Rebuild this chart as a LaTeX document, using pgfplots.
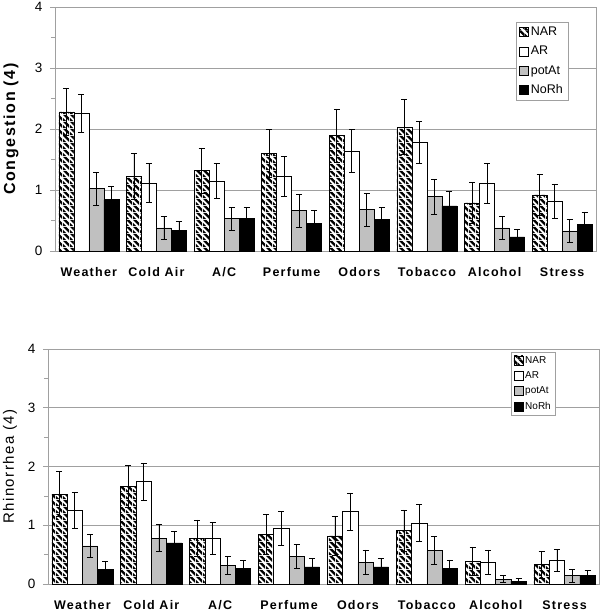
\documentclass[border=0pt]{standalone}
\usepackage{fontspec}
\setmainfont{Liberation Sans}
\newfontfamily\lsp[LetterSpace=10]{Liberation Sans}
\usepackage{pgfplots}
\usepackage{pgfplotstable}
\pgfplotsset{compat=1.18}
\usetikzlibrary{patterns}

\pgfdeclarepatternformonly{thickstripes}{\pgfpoint{0pt}{0pt}}{\pgfpoint{7pt}{7pt}}{\pgfpoint{7pt}{7pt}}{
  \pgfpathmoveto{\pgfpoint{0pt}{0pt}}
  \pgfpathlineto{\pgfpoint{3.6pt}{0pt}}
  \pgfpathlineto{\pgfpoint{0pt}{3.6pt}}
  \pgfpathclose
  \pgfpathmoveto{\pgfpoint{7pt}{0pt}}
  \pgfpathlineto{\pgfpoint{7pt}{3.6pt}}
  \pgfpathlineto{\pgfpoint{3.6pt}{7pt}}
  \pgfpathlineto{\pgfpoint{0pt}{7pt}}
  \pgfpathclose
  \pgfusepath{fill}
}

\pgfplotstableread{
x nar narE ar arE pot potE no noE
0 2.28 0.38 2.25 0.31 1.02 0.27 0.84 0.22
1 1.22 0.38 1.11 0.32 0.38 0.19 0.34 0.15
2 1.32 0.37 1.15 0.28 0.53 0.19 0.54 0.18
3 1.60 0.39 1.22 0.33 0.66 0.27 0.45 0.21
4 1.89 0.44 1.64 0.35 0.68 0.27 0.52 0.20
5 2.03 0.45 1.78 0.34 0.89 0.29 0.74 0.24
6 0.79 0.34 1.11 0.33 0.38 0.19 0.23 0.13
7 0.92 0.34 0.82 0.28 0.33 0.19 0.44 0.20
}\congestion

\pgfplotstableread{
x nar narE ar arE pot potE no noE
0 1.53 0.38 1.25 0.31 0.65 0.20 0.25 0.14
1 1.66 0.36 1.74 0.31 0.78 0.23 0.70 0.19
2 0.78 0.31 0.78 0.27 0.32 0.15 0.27 0.13
3 0.84 0.34 0.94 0.29 0.47 0.21 0.29 0.15
4 0.82 0.33 1.23 0.32 0.37 0.21 0.29 0.15
5 0.91 0.35 1.04 0.32 0.57 0.24 0.27 0.14
6 0.39 0.24 0.37 0.21 0.08 0.06 0.05 0.05
7 0.33 0.23 0.40 0.19 0.14 0.11 0.14 0.09
}\rhino

\definecolor{potgray}{HTML}{C0C0C0}
\definecolor{gridgray}{HTML}{A0A0A0}

\pgfplotsset{
  barchart/.style={
    scale only axis,
    ybar=0pt,
    xmin=-0.5, xmax=7.5,
    ymin=0, ymax=4,
    xtick={0,...,7},
    xticklabels={Weather,Cold Air,A/C,Perfume,Odors,Tobacco,Alcohol,Stress},
    ytick={0,1,2,3,4},
    minor y tick num=1,
    ymajorgrids,
    major grid style={gridgray, line width=0.6pt},
    axis line style={gridgray, line width=0.6pt},
    tick align=outside,
    ytick pos=left,
    xtick pos=bottom,
    x tick style={draw=none},
    y tick style={gridgray, line width=0.6pt},
    major tick length=5pt,
    minor tick length=4pt,
    extra x ticks={0.5,1.5,2.5,3.5,4.5,5.5,6.5},
    extra x tick labels={},
    extra x tick style={grid=none, tick style={draw=gridgray, line width=0.6pt}, major tick length=5pt},
    /pgf/number format/assume math mode=true,
    yticklabel style={font=\fontsize{13.5}{13.5}\selectfont\lsp, xshift=-4pt},
    xticklabel style={font=\fontsize{12.5}{12.5}\selectfont\lsp\bfseries, yshift=-8pt},
    legend cell align=left,
    legend image code/.code={\draw[##1] (0pt,-4.5pt) rectangle (9pt,4.5pt);},
    error bars/y dir=both,
    error bars/y explicit,
    error bars/error bar style={black, line width=0.7pt},
    error bars/error mark options={black, rotate=90, mark size=3pt, line width=0.7pt},
  },
  narstyle/.style={fill=white, draw=black, line width=0.6pt,
    postaction={pattern=thickstripes, pattern color=black}},
  arstyle/.style={fill=white, draw=black, line width=0.6pt},
  potstyle/.style={fill=potgray, draw=black, line width=0.6pt},
  nostyle/.style={fill=black, draw=black, line width=0.6pt},
}

\begin{document}
\begin{tikzpicture}
\path[use as bounding box] (0pt,0pt) rectangle (600pt,-611pt);

\begin{axis}[barchart,
  at={(55pt,-251pt)}, anchor=south west,
  width=541pt, height=244pt,
  bar width=15pt,
  ylabel={Congestion (4)},
  ylabel style={at={(axis description cs:0,0.5)}, anchor=center, yshift=44pt, font=\fontsize{16}{16}\selectfont\lsp\bfseries},
  legend style={at={(1,1)}, anchor=north east, xshift=-28pt, yshift=-15pt,
    draw=gridgray, font=\fontsize{12.5}{12.5}\selectfont, row sep=5pt, inner sep=3pt,
    /tikz/every even column/.append style={column sep=2pt}},
]
\addplot[narstyle] table[x=x, y=nar, y error=narE]{\congestion};
\addplot[arstyle] table[x=x, y=ar, y error=arE]{\congestion};
\addplot[potstyle] table[x=x, y=pot, y error=potE]{\congestion};
\addplot[nostyle] table[x=x, y=no, y error=noE]{\congestion};
\legend{NAR,AR,potAt,NoRh}
\end{axis}

\begin{axis}[barchart,
  at={(48pt,-584pt)}, anchor=south west,
  width=551pt, height=235pt,
  bar width=15.3pt,
  ylabel={Rhinorrhea (4)},
  ylabel style={at={(axis description cs:0,0.5)}, anchor=center, yshift=38pt, font=\fontsize{15}{15}\selectfont\lsp},
  legend style={at={(1,1)}, anchor=north east, xshift=-44pt, yshift=-3pt,
    draw=gridgray, font=\fontsize{10}{10}\selectfont, row sep=3pt, inner sep=2pt,
    /tikz/every even column/.append style={column sep=2pt}},
]
\addplot[narstyle] table[x=x, y=nar, y error=narE]{\rhino};
\addplot[arstyle] table[x=x, y=ar, y error=arE]{\rhino};
\addplot[potstyle] table[x=x, y=pot, y error=potE]{\rhino};
\addplot[nostyle] table[x=x, y=no, y error=noE]{\rhino};
\legend{NAR,AR,potAt,NoRh}
\end{axis}
\end{tikzpicture}
\end{document}
